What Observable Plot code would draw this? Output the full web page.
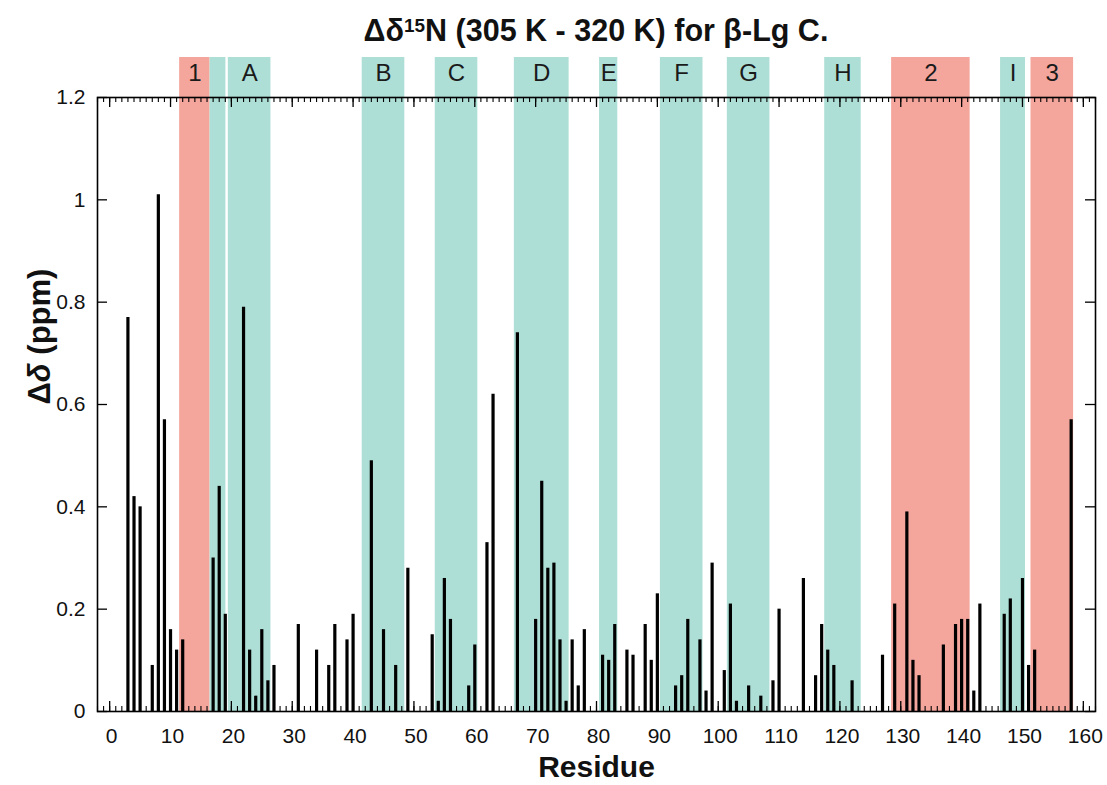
<!DOCTYPE html>
<html><head><meta charset="utf-8">
<script src="https://cdn.jsdelivr.net/npm/d3@7"></script>
<script src="https://cdn.jsdelivr.net/npm/@observablehq/plot@0.6"></script>
<style>
body{margin:0;background:#fff;font-family:"Liberation Sans",Arial,sans-serif;}
#title{height:45px;box-sizing:border-box;padding-top:15px;padding-left:85px;text-align:center;font-weight:bold;font-size:30.5px;line-height:1;color:#111;white-space:nowrap;overflow:visible;}
#title sup{font-size:0.62em;vertical-align:0.5em;line-height:0}
#chart svg{display:block;overflow:visible}
</style></head><body>
<div id="title">Δδ<sup>15</sup>N (305 K - 320 K) for β-Lg C.</div>
<div id="chart"></div>
<script>
// Residue numbers and chemical shift differences (ppm)
const residues = [3,4,5,7,8,9,10,11,12,17,18,19,22,23,24,25,26,27,31,34,36,37,39,40,43,45,47,49,53,54,55,56,59,60,62,63,67,70,71,72,73,74,75,76,77,78,81,82,83,85,86,88,89,90,93,94,95,97,98,99,101,102,103,105,107,109,110,114,116,117,118,119,122,127,129,131,132,133,137,139,140,141,142,143,147,148,150,151,152,158];
const shifts = [0.77,0.42,0.40,0.09,1.01,0.57,0.16,0.12,0.14,0.30,0.44,0.19,0.79,0.12,0.03,0.16,0.06,0.09,0.17,0.12,0.09,0.17,0.14,0.19,0.49,0.16,0.09,0.28,0.15,0.02,0.26,0.18,0.05,0.13,0.33,0.62,0.74,0.18,0.45,0.28,0.29,0.14,0.02,0.14,0.05,0.16,0.11,0.10,0.17,0.12,0.11,0.17,0.10,0.23,0.05,0.07,0.18,0.14,0.04,0.29,0.08,0.21,0.02,0.05,0.03,0.06,0.20,0.26,0.07,0.17,0.12,0.09,0.06,0.11,0.21,0.39,0.10,0.07,0.13,0.17,0.18,0.18,0.04,0.21,0.19,0.22,0.26,0.09,0.12,0.57];

// Highlighted regions
const bandStart = [11.5,16.5,19.5,41.5,53.5,66.5,80.5,90.5,101.5,117.5,128.5,146.4,151.4];
const bandEnd   = [16.5,19.1,26.5,48.5,60.5,75.5,83.5,97.5,108.5,123.5,141.4,150.5,158.4];
const bandLabel = ["1","","A","B","C","D","E","F","G","H","2","I","3"];
const bandKind  = ["loop","strand","strand","strand","strand","strand","strand","strand","strand","strand","loop","strand","loop"];

const xTickValues = [0,10,20,30,40,50,60,70,80,90,100,110,120,130,140,150,160];
const yTickValues = [0,0.2,0.4,0.6,0.8,1,1.2];
const yTickLabels = ["0","0.2","0.4","0.6","0.8","1","1.2"];

const data = residues.map((r,i)=>({r, v: shifts[i]}));
const bands = bandStart.map((s,i)=>({s, e: bandEnd[i], label: bandLabel[i], kind: bandKind[i]}));
const minorX = d3.range(-2,163);

const W = 1107, H = 740, mT = 52, mB = 74, mL = 97, mR = 12;
const frameH = H - mT - mB, frameW = W - mL - mR;
const font = "Liberation Sans, Arial, sans-serif";
const loopColor = "#f4a59c", strandColor = "#aedfd6";

const plot = Plot.plot({
  width: W, height: H,
  marginTop: mT, marginBottom: mB, marginLeft: mL, marginRight: mR,
  style: {fontFamily: font, background: "white"},
  x: {domain: [-2, 162], axis: null},
  y: {domain: [0, 1.2], axis: null},
  marks: [
    Plot.rect(bands.filter(d=>d.kind==="loop"), {x1: "s", x2: "e", fill: loopColor, insetTop: -40}),
    Plot.rect(bands.filter(d=>d.kind==="strand"), {x1: "s", x2: "e", fill: strandColor, insetTop: -40}),
    Plot.text(bands, {x: d=>(d.s+d.e)/2, text: "label", frameAnchor: "top", lineAnchor: "middle", dy: -24, fontSize: 24, fill: "#1a1a1a", fontFamily: font}),
    Plot.ruleX(data, {x: "r", y1: 0, y2: "v", stroke: "black", strokeWidth: 3.2}),
    Plot.tickX(minorX, {x: d=>d, insetTop: frameH - 5, stroke: "black", strokeWidth: 1.1}),
    Plot.tickX(minorX, {x: d=>d, insetBottom: frameH - 5, stroke: "black", strokeWidth: 1.1}),
    Plot.tickX(xTickValues, {x: d=>d, insetTop: frameH - 10, stroke: "black", strokeWidth: 1.3}),
    Plot.tickX(xTickValues, {x: d=>d, insetBottom: frameH - 10, stroke: "black", strokeWidth: 1.3}),
    Plot.tickY(yTickValues, {y: d=>d, insetRight: frameW - 10, stroke: "black", strokeWidth: 1.3}),
    Plot.tickY(yTickValues, {y: d=>d, insetLeft: frameW - 10, stroke: "black", strokeWidth: 1.3}),
    Plot.frame({stroke: "black", strokeWidth: 1.6}),
    Plot.text(xTickValues, {x: d=>d, text: d=>String(d), frameAnchor: "bottom", lineAnchor: "middle", dy: 25, dx: 2, fontSize: 21, fill: "#111", fontFamily: font}),
    Plot.text(yTickValues, {y: d=>d, text: (d,i)=>yTickLabels[i], frameAnchor: "left", lineAnchor: "middle", dx: -12, textAnchor: "end", fontSize: 21, fill: "#111", fontFamily: font}),
    Plot.text(["Residue"], {text: d=>d, frameAnchor: "bottom", lineAnchor: "middle", dy: 56, fontSize: 30, fontWeight: "bold", fill: "#111", fontFamily: font}),
    Plot.text(["Δδ (ppm)"], {text: d=>d, frameAnchor: "left", lineAnchor: "middle", dx: -57, rotate: -90, fontSize: 31, fontWeight: "bold", fill: "#111", fontFamily: font})
  ]
});
document.getElementById("chart").appendChild(plot);
// italic delta in y-axis title
plot.querySelectorAll("text").forEach(t=>{
  if (t.textContent === "Δδ (ppm)") {
    t.textContent = "";
    const ns = "http://www.w3.org/2000/svg";
    const a = document.createElementNS(ns,"tspan"); a.textContent = "Δ";
    const b = document.createElementNS(ns,"tspan"); b.textContent = "δ"; b.setAttribute("font-style","italic");
    const c = document.createElementNS(ns,"tspan"); c.textContent = " (ppm)";
    t.append(a,b,c);
  }
});
</script>
</body></html>
